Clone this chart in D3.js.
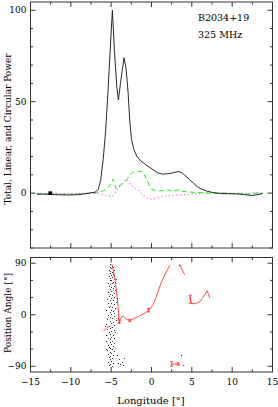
<!DOCTYPE html>
<html>
<head>
<meta charset="utf-8">
<script src="https://cdn.jsdelivr.net/npm/d3@7"></script>
<style>
body {margin: 0; background: #fff;}
text {font-family: "DejaVu Serif", serif; font-size: 9px; fill: #000;}
</style>
</head>
<body>
<svg id="chart" width="278" height="407"></svg>
<script>
// Profile: [longitude, power]
const totalPower = [
  [-14.2,-0.5],[-13,-0.6],[-12,-0.8],[-11,-1],[-10,-1],[-9,-0.8],[-8,-0.2],[-7.5,0.2],[-7,0.5],
  [-6.6,2],[-6.3,7],[-6.0,18],[-5.7,33],[-5.4,55],[-5.1,80],[-4.85,100],[-4.6,78],[-4.3,58],
  [-4.1,51],[-3.85,60],[-3.6,68],[-3.4,74],[-3.15,68],[-2.9,55],[-2.7,40],[-2.5,30],[-2.2,24],
  [-1.8,20],[-1.3,17.5],[-0.7,15.5],[-0.2,14],[0.3,12.5],[0.8,11],[1.4,10.4],[2.0,10.6],[2.5,10.9],
  [3.0,11.5],[3.4,11.8],[3.8,11],[4.2,9.5],[4.7,7.5],[5.2,5.5],[5.7,3.5],[6.2,2.2],[6.8,1.2],
  [7.4,0.5],[8.2,0],[9.1,-0.3],[10,-0.3],[10.7,-0.5],[11.5,-0.8],[12.4,-1.3],[13.2,-0.8],[13.8,-0.2]
]
const linearPower = [
  [-14.2,-0.4],[-13,-0.5],[-12,-0.6],[-11,-0.5],[-10,-0.6],[-9,-0.4],[-8,-0.2],[-7.2,0],[-6.5,0.5],
  [-6.0,1.2],[-5.5,2.5],[-5.1,4.5],[-4.8,7.5],[-4.6,5.5],[-4.4,2.5],[-4.1,4],[-3.8,4.5],[-3.5,5.5],
  [-3.1,7.5],[-2.7,9.5],[-2.3,11.5],[-1.8,12],[-1.3,11.8],[-1.0,11],[-0.6,7.5],[-0.3,4.5],[0,2.2],
  [0.5,1.4],[1.0,1.2],[1.5,1.4],[2.0,1.8],[2.5,1.2],[3.0,1.4],[3.4,1.8],[3.9,1.0],[4.5,0.6],
  [5.0,0.5],[6,0.3],[7,0],[8,-0.2],[9,0.1],[10,-0.3],[11,-0.2],[12,-0.5],[13,0.1],[13.8,0.2]
]
const circularPower = [
  [-14.2,-0.2],[-13,-0.1],[-12,-0.2],[-11,-0.1],[-10,-0.2],[-9,-0.1],[-8,0],[-7,-0.1],[-6.5,-0.3],
  [-6.0,-0.8],[-5.5,-1.2],[-5.1,-1.8],[-4.8,-1.5],[-4.5,0],[-4.2,2],[-3.9,4],[-3.5,6],[-3.1,7.5],
  [-2.8,6],[-2.5,4],[-2.0,2.5],[-1.6,1.5],[-1.2,-0.5],[-0.8,-2],[-0.4,-3],[0,-3.3],[0.5,-2.8],
  [1.0,-2.2],[1.6,-1.6],[2.5,-1.3],[3.3,-1.0],[4.1,-0.8],[5,-0.5],[6,-0.2],[7,0],[8,-0.1],
  [9,0],[10,-0.1],[11,0],[12,-0.1],[13,0],[13.8,0]
]
const offPulseMark = [[-12.55, 0]]

// Mean position angle, one list per contiguous run: [longitude, PA]
const meanPA = [
  [[-5.95,-28],[-5.7,-25],[-5.45,-22],[-5.2,-20]],
  [[-4.9,88],[-4.75,78],[-4.6,68],[-4.45,55],[-4.35,42],[-4.25,28],[-4.15,15],[-4.08,2],[-4.02,-10],
   [-3.95,-14],[-3.85,-8],[-3.7,-4],[-3.5,-2],[-3.3,-5],[-3.1,-8],[-2.9,-9],[-2.7,-10],[-2.5,-9],
   [-2.2,-7],[-1.9,-5],[-1.6,-3],[-1.2,0],[-0.8,3],[-0.4,7],[-0.2,10],[0.2,17],[0.5,28],[0.8,40],
   [1.1,52],[1.4,62],[1.7,71],[2.0,79],[2.3,87]],
  [[3.5,88],[3.7,82],[3.9,76],[4.1,70]],
  [[4.75,32],[4.96,20],[5.4,19],[6.0,23],[6.3,29],[6.6,35],[6.9,42],[7.24,29]],
  [[2.5,-87],[2.9,-86],[3.2,-86],[3.5,-87]]
]
// PA error bars: [longitude, PA, error]
const paErrors = [[-4.0,-12,3],[-2.7,-10,2],[-0.37,8,3],[4.8,27,7],[2.5,-86,4],[3.3,-86,2]]

// Single-pulse position angles: [longitude, PA]
const singlePA = [
  [-5.1,88],[-4.9,86],[-5.2,84],[-4.8,83],[-5.0,81],[-5.3,79],[-4.7,78],[-5.1,77],[-4.9,75],[-5.2,73],
  [-4.8,72],[-5.0,70],[-4.6,69],[-5.3,68],[-4.9,66],[-5.1,65],[-4.7,63],[-5.2,61],[-5.0,60],[-4.8,58],
  [-5.4,56],[-4.9,55],[-5.1,53],[-4.6,51],[-5.3,50],[-5.0,48],[-4.8,46],[-5.2,45],[-4.5,43],[-5.0,41],
  [-5.4,40],[-4.7,38],[-5.1,36],[-4.9,35],[-5.3,33],[-4.6,31],[-5.0,30],[-5.5,28],[-4.8,26],[-5.2,25],
  [-4.4,23],[-5.0,21],[-5.4,20],[-4.7,18],[-5.1,16],[-4.9,14],[-5.3,13],[-4.5,11],[-5.0,9],[-5.6,8],
  [-4.8,6],[-5.2,4],[-4.6,3],[-5.0,1],[-5.4,-1],[-4.7,-3],[-5.1,-4],[-4.9,-6],[-5.5,-8],[-4.4,-9],
  [-5.2,-11],[-4.8,-13],[-5.0,-14],[-5.6,-16],[-4.6,-18],[-5.3,-19],[-4.9,-21],[-5.1,-23],[-5.5,-25],
  [-4.7,-26],[-5.0,-28],[-5.3,-30],[-4.5,-31],[-5.2,-33],[-4.8,-35],[-5.6,-36],[-5.0,-38],[-4.7,-40],
  [-5.4,-41],[-5.1,-43],[-4.9,-45],[-5.7,-46],[-5.2,-48],[-4.6,-50],[-5.0,-51],[-5.4,-53],[-4.8,-55],
  [-5.3,-56],[-5.1,-58],[-4.9,-60],[-5.5,-61],[-4.7,-63],[-5.2,-65],[-5.0,-66],[-5.4,-68],[-4.8,-70],
  [-5.1,-72],[-5.3,-74],[-4.9,-76],[-5.2,-78],[-5.0,-80],[-5.4,-82],[-4.8,-84],[-5.1,-86],[-5.3,-88],
  [-4.9,-89],[-4.3,-70],[-4.0,-78],[-3.7,-82],[-3.4,-75],[-3.9,-86],[-3.5,-88],[-4.2,-84],[3.4,87],
  [3.7,-71],[3.9,-87],[-4.4,62],[-4.3,30],[-4.2,-5],[-5.8,-20],[-5.7,-60]
]

const lonTicks = [-15, -10, -5, 0, 5, 10, 15]
const powerTicks = [0, 50, 100]
const paTicks = [-90, 0, 90]
const sourceLabels = ["B2034+19", "325 MHz"]

const svg = d3.select("#chart")
const fmt = d => d < 0 ? "\u2212" + Math.abs(d) : String(d)

const x = d3.scaleLinear().domain([-15, 15]).range([30.5, 272.5])
const yP = d3.scaleLinear().domain([-30, 104.5]).range([248, 2])
const yA = d3.scaleLinear().domain([-100, 100]).range([372, 257.5])

function frame(y, minorY, majorY) {
  const g = svg.append("g")
  const [y0, y1] = y.range()
  const [x0, x1] = x.range()
  g.append("rect")
    .attr("x", x0).attr("y", y1).attr("width", x1 - x0).attr("height", y0 - y1)
    .attr("fill", "none").attr("stroke", "#333").attr("stroke-width", 1)
  const xs = d3.range(-15, 15.01, 2.5)
  xs.forEach(v => {
    const len = v % 5 === 0 ? 5 : 2.5
    g.append("line").attr("x1", x(v)).attr("x2", x(v)).attr("y1", y0).attr("y2", y0 - len)
      .attr("stroke", "#333")
    g.append("line").attr("x1", x(v)).attr("x2", x(v)).attr("y1", y1).attr("y2", y1 + len)
      .attr("stroke", "#333")
  })
  minorY.forEach(v => {
    const len = majorY.includes(v) ? 5 : 2.5
    g.append("line").attr("x1", x0).attr("x2", x0 + len).attr("y1", y(v)).attr("y2", y(v))
      .attr("stroke", "#333")
    g.append("line").attr("x1", x1).attr("x2", x1 - len).attr("y1", y(v)).attr("y2", y(v))
      .attr("stroke", "#333")
  })
  majorY.forEach(v => {
    g.append("text").attr("x", x0 - 4).attr("y", y(v)).attr("dy", "0.35em")
      .attr("text-anchor", "end").text(fmt(v))
  })
}

// top panel
frame(yP, d3.range(-30, 101, 10), powerTicks)

const line = y => d3.line().x(d => x(d[0])).y(d => y(d[1]))

svg.append("path").attr("d", line(yP)(circularPower))
  .attr("fill", "none").attr("stroke", "#ff66ff").attr("stroke-width", 1.2)
  .attr("stroke-dasharray", "1.2,2.6")
svg.append("path").attr("d", line(yP)(linearPower))
  .attr("fill", "none").attr("stroke", "#22ee22").attr("stroke-width", 1)
  .attr("stroke-dasharray", "5,3")
svg.append("path").attr("d", line(yP)(totalPower))
  .attr("fill", "none").attr("stroke", "#111").attr("stroke-width", 0.9)

svg.selectAll("rect.mark").data(offPulseMark).join("rect").attr("class", "mark")
  .attr("x", d => x(d[0]) - 1.8).attr("y", d => yP(d[1]) - 1.8)
  .attr("width", 3.6).attr("height", 3.6).attr("fill", "#000")

sourceLabels.forEach((t, i) => {
  svg.append("text").attr("x", 198).attr("y", 21 + i * 17).style("font-size", "9.5px").text(t)
})

// bottom panel
frame(yA, d3.range(-90, 91, 30), paTicks)

svg.selectAll("rect.sp").data(singlePA).join("rect").attr("class", "sp")
  .attr("x", d => Math.round(x(d[0]))).attr("y", d => Math.round(yA(d[1])))
  .attr("width", 1).attr("height", 1).attr("fill", "#333")

meanPA.forEach(seg => {
  svg.append("path").attr("d", line(yA)(seg))
    .attr("fill", "none").attr("stroke", "#ff2020").attr("stroke-width", 0.8)
})
paErrors.forEach(([l, p, e]) => {
  const g = svg.append("g").attr("stroke", "#ff2020").attr("stroke-width", 0.8)
  g.append("line").attr("x1", x(l)).attr("x2", x(l)).attr("y1", yA(p - e)).attr("y2", yA(p + e))
  g.append("line").attr("x1", x(l) - 1.5).attr("x2", x(l) + 1.5).attr("y1", yA(p - e)).attr("y2", yA(p - e))
  g.append("line").attr("x1", x(l) - 1.5).attr("x2", x(l) + 1.5).attr("y1", yA(p + e)).attr("y2", yA(p + e))
})

lonTicks.forEach(v => {
  svg.append("text").attr("x", x(v)).attr("y", 385).attr("text-anchor", "middle").text(fmt(v))
})

// axis titles
svg.append("text").attr("transform", "translate(11,129) rotate(-90)")
  .attr("text-anchor", "middle").text("Total, Linear, and Circular Power")
svg.append("text").attr("transform", "translate(11,313) rotate(-90)")
  .attr("text-anchor", "middle").text("Position Angle [\u00b0]")
svg.append("text").attr("x", 151).attr("y", 404).attr("text-anchor", "middle")
  .style("font-size", "10px").text("Longitude [\u00b0]")
</script>
</body>
</html>
